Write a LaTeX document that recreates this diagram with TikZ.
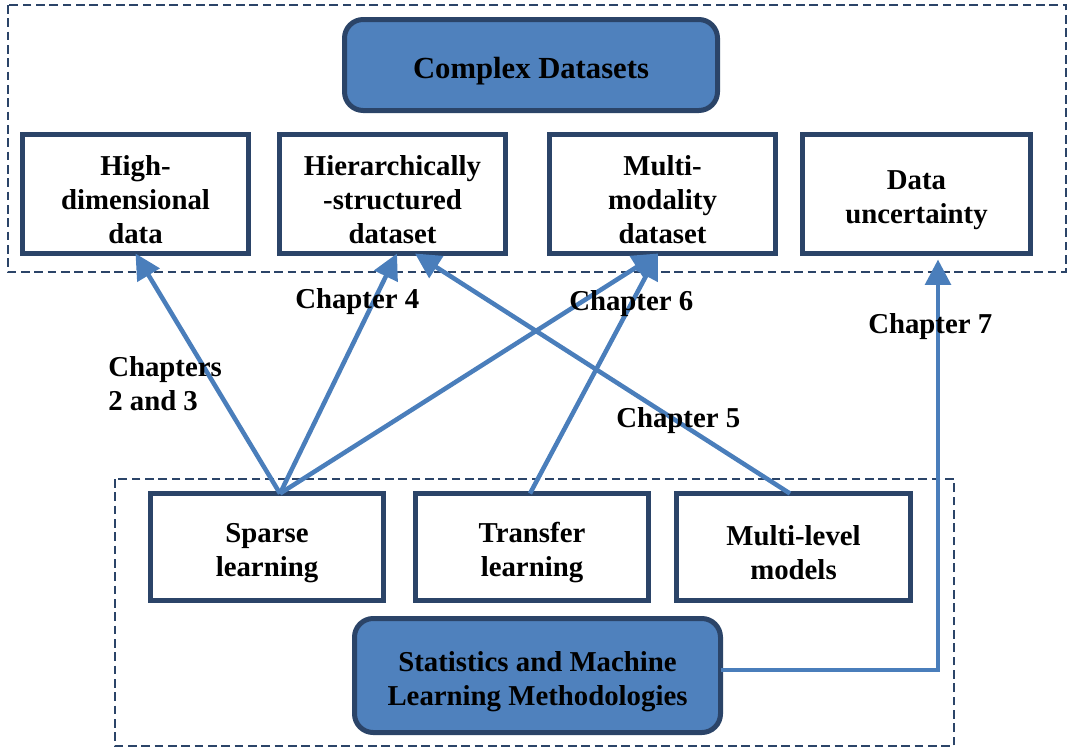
\documentclass[tikz,border=0pt]{standalone}
\usepackage{fontspec}
\setmainfont{Liberation Serif}
\usetikzlibrary{arrows.meta}
\definecolor{navy}{RGB}{43,68,104}
\definecolor{fillblue}{RGB}{79,129,189}
\definecolor{arrowblue}{RGB}{74,126,187}
\begin{document}
\begin{tikzpicture}[x=0.75pt,y=-0.75pt,
  txt/.style={font=\fontsize{21.6}{25.5}\selectfont\bfseries, align=center, text=black, inner sep=0pt},
  boxtext/.style={label={[txt, yshift=-4.5pt]center:{#1}}},
  box/.style={draw=navy, line width=3.75pt, fill=white, inner sep=0pt, outer sep=0pt},
  head/.style={box, fill=fillblue, rounded corners=14pt},
  region/.style={draw=navy, line width=1.8pt, dash pattern=on 6.5pt off 3.5pt},
  link/.style={draw=arrowblue, line width=3.4pt, -{Triangle[length=19pt,width=19pt]}},
  lbl/.style={txt, align=left, anchor=base west}]
\useasboundingbox (0,0) rectangle (1068,747);
% dashed regions
\draw[region] (8,5) rectangle (1066,272);
\draw[region] (115,479) rectangle (954,746);
% dataset boxes
\node[head, minimum width=279.75pt, minimum height=68.25pt,
  label={[txt, font=\fontsize{23}{26}\selectfont\bfseries, yshift=-4.5pt]center:{Complex Datasets}}] (cd) at (531,65) {};
\node[box, minimum width=169.5pt, minimum height=89.25pt, boxtext={High-\\dimensional\\data}] (hd) at (135.5,194) {};
\node[box, minimum width=169.5pt, minimum height=89.25pt, boxtext={Hierarchically\\-structured\\dataset}] (hs) at (392.5,194) {};
\node[box, minimum width=169.5pt, minimum height=89.25pt, boxtext={Multi-\\modality\\dataset}] (mm) at (662.5,194) {};
\node[box, minimum width=171pt, minimum height=89.25pt, boxtext={Data\\uncertainty}] (du) at (916.5,194) {};
% methodology boxes
\node[box, minimum width=174.75pt, minimum height=80.25pt, boxtext={Sparse\\learning}] (sp) at (267,547) {};
\node[box, minimum width=174.75pt, minimum height=80.25pt, boxtext={Transfer\\learning}] (tl) at (532,547) {};
\node[box, minimum width=175.5pt, minimum height=80.25pt, boxtext={Multi-level\\models}] (ml) at (793.5,547) {};
\node[head, minimum width=274.5pt, minimum height=85.5pt, boxtext={Statistics and Machine\\Learning Methodologies}] (st) at (537.5,675.5) {};
% connectors
\draw[link] ([xshift=9.75pt]sp.north) -- (hd.south);
\draw[link] ([xshift=9.75pt]sp.north) -- ([xshift=3.375pt]hs.south);
\draw[link] ([xshift=9.75pt]sp.north) -- ([xshift=-3.375pt]mm.south);
\draw[link] ([xshift=-1.5pt]tl.north) -- ([xshift=-3.375pt]mm.south);
\draw[link] ([xshift=-2.625pt]ml.north) -- ([xshift=16.875pt]hs.south);
\draw[link, shorten >=4.5pt] ([yshift=4.125pt]st.east) -| ([xshift=16.125pt]du.south);
% labels
\node[lbl] (c23) at (108,410) {Chapters\\2 and 3};
\node[lbl] (c4) at (295,308) {Chapter 4};
\node[lbl] (c6) at (569,310) {Chapter 6};
\node[lbl] (c7) at (868,333) {Chapter 7};
\node[lbl] (c5) at (616,427) {Chapter 5};
\end{tikzpicture}
\end{document}
